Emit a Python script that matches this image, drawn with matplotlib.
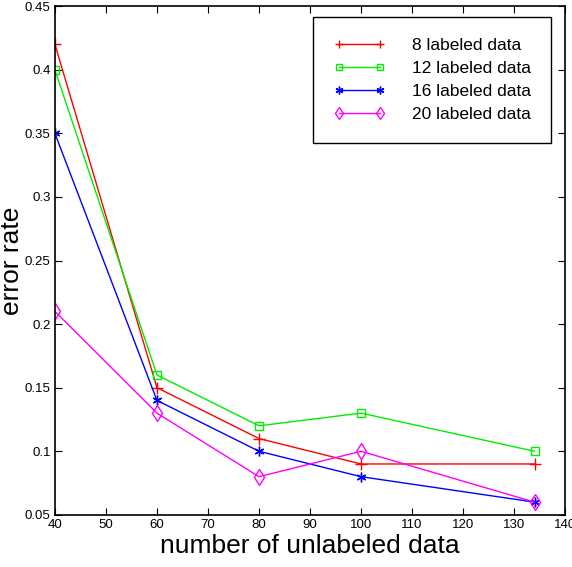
import matplotlib
matplotlib.use("Agg")
import matplotlib.pyplot as plt

plt.rcParams["font.family"] = ["Liberation Sans", "DejaVu Sans"]

# data
x = [40, 60, 80, 100, 134]
err_8 = [0.42, 0.15, 0.11, 0.09, 0.09]
err_12 = [0.40, 0.16, 0.12, 0.13, 0.10]
err_16 = [0.35, 0.14, 0.10, 0.08, 0.06]
err_20 = [0.21, 0.13, 0.08, 0.10, 0.06]

fig = plt.figure(figsize=(5.72, 5.67), dpi=100)
ax = fig.add_axes([0.096, 0.092, 0.892, 0.897])

ax.plot(x, err_8, color="red", marker="+", markersize=8, linewidth=1, label="8 labeled data")
ax.plot(x, err_12, color="#00ee00", marker="s", markersize=6, markerfacecolor="none",
        linewidth=1, label="12 labeled data")
ax.plot(x, err_16, color="blue", marker=(6, 2, 0), markersize=7, linewidth=1, label="16 labeled data")
ax.plot(x, err_20, color="magenta", marker="d", markersize=8, markerfacecolor="none",
        linewidth=1, label="20 labeled data")

ax.set_xlim(40, 140)
ax.set_ylim(0.05, 0.45)
ax.set_xticks(range(40, 141, 10))
ax.set_yticks([0.05, 0.1, 0.15, 0.2, 0.25, 0.3, 0.35, 0.4, 0.45])
ax.set_yticklabels(["0.05", "0.1", "0.15", "0.2", "0.25", "0.3", "0.35", "0.4", "0.45"])
ax.tick_params(direction="in", top=True, right=True, labelsize=9.5, length=5, pad=3)
for s in ax.spines.values():
    s.set_linewidth(1.2)

ax.set_xlabel("number of unlabeled data", fontsize=19, labelpad=2)
ax.set_ylabel("error rate", fontsize=19)
ax.yaxis.set_label_coords(-0.061, 0.5)

leg = ax.legend(loc="upper right", bbox_to_anchor=(0.973, 0.978), fontsize=12.5,
                fancybox=False, edgecolor="black", framealpha=1, numpoints=2,
                handlelength=3.0, markerscale=0.8,
                borderpad=1.2, labelspacing=0.45, handletextpad=1.5, borderaxespad=0)
leg.get_frame().set_linewidth(1)

fig.savefig("out.png", dpi=100)
